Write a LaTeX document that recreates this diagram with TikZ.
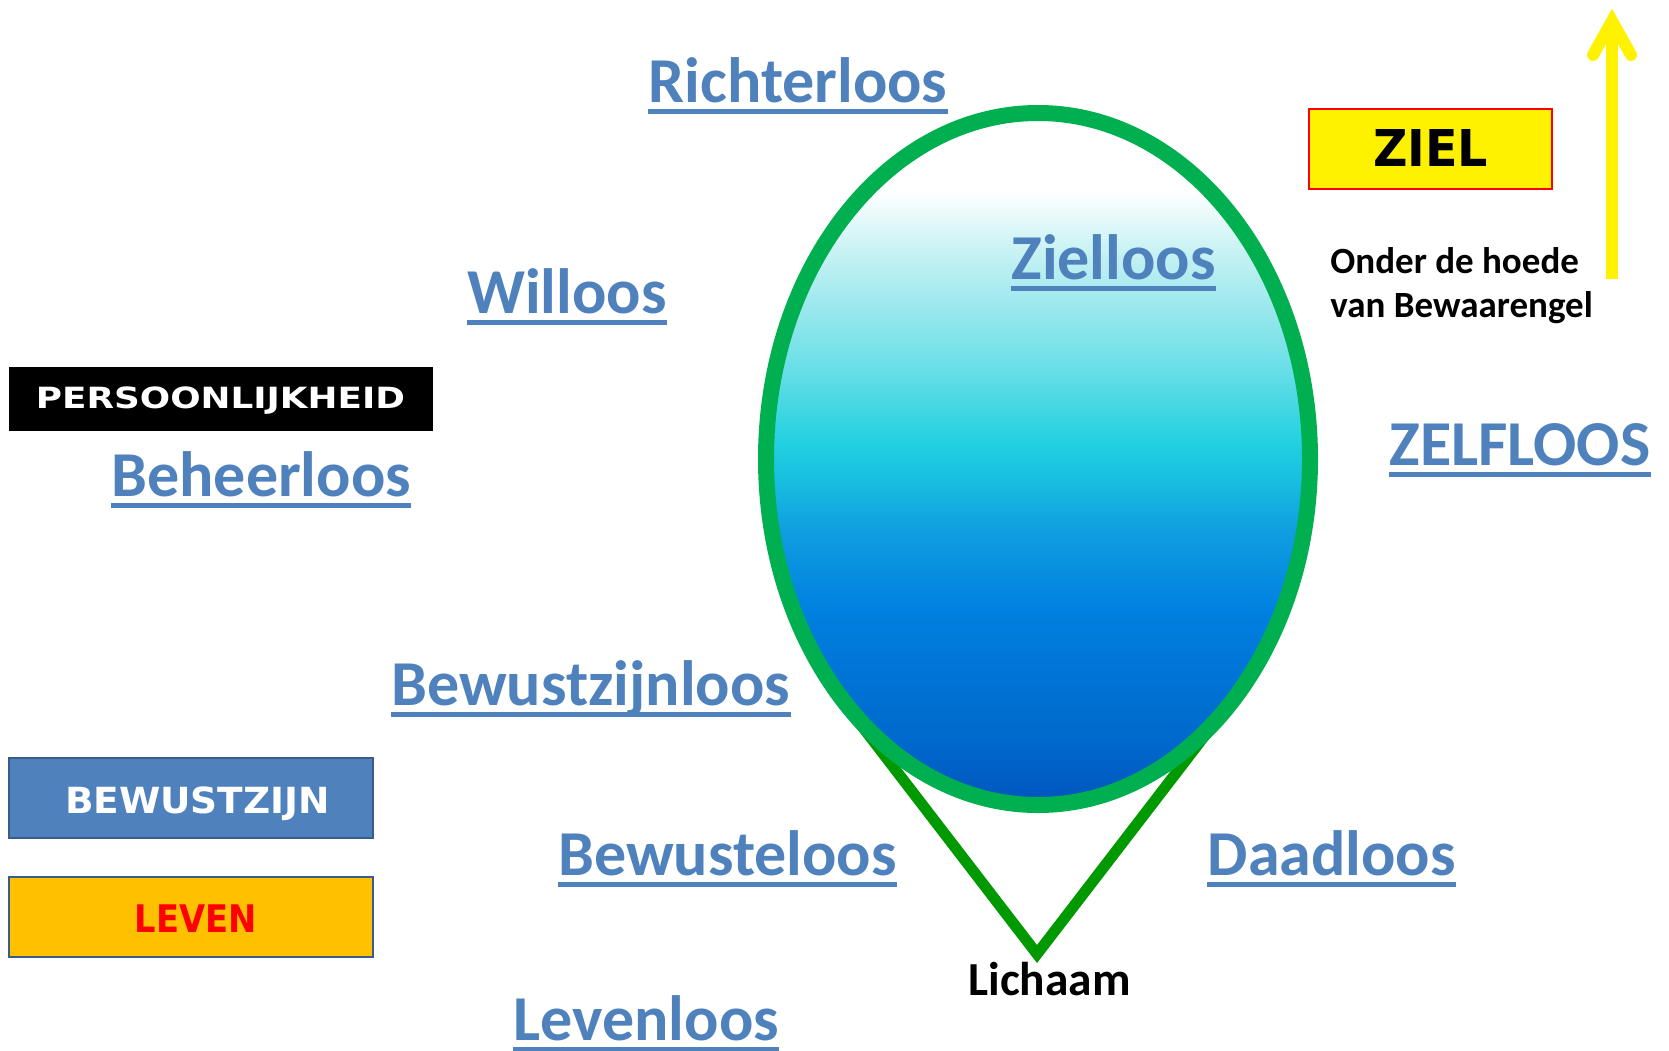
\documentclass[tikz,border=0pt]{standalone}
\usepackage{fontspec}
\setmainfont{Carlito}
\newfontfamily\boxfont{DejaVu Sans}
\usepackage{graphicx}
\usetikzlibrary{shapes.geometric}
\definecolor{lblue}{HTML}{4F81BD}
\definecolor{soulgreen}{HTML}{00B050}
\definecolor{bodygreen}{HTML}{009900}
\definecolor{boxblue}{HTML}{4F81BD}
\definecolor{boxborder}{HTML}{385D8A}
\definecolor{amber}{HTML}{FFC000}
\definecolor{s0}{HTML}{0055BE}
\definecolor{s1}{HTML}{0068CC}
\definecolor{s2}{HTML}{0080E0}
\definecolor{s3}{HTML}{10A0E0}
\definecolor{s4}{HTML}{18C0E0}
\definecolor{s5}{HTML}{22D0E0}
\definecolor{s6}{HTML}{70E0E8}
\definecolor{s7}{HTML}{C0F0F2}
\pgfdeclareverticalshading{soulshade}{100bp}{color(0bp)=(s0); color(25bp)=(s0); color(29.48bp)=(s1); color(39.09bp)=(s2); color(45.09bp)=(s3); color(48.70bp)=(s4); color(51.16bp)=(s5); color(57.15bp)=(s6); color(64.38bp)=(s7); color(69.44bp)=(white); color(100bp)=(white)}
\tikzset{
  loos/.style={font=\fontsize{32}{36}\selectfont\bfseries, text=lblue, inner sep=0pt},
  loosline/.style={draw=lblue, line width=2.5pt},
  blackbold/.style={font=\bfseries, text=black, inner sep=0pt},
  boxshape/.style={rectangle, inner sep=0pt},
  boxtxt/.style={font=\boxfont\bfseries, inner sep=0pt, anchor=base},
  soul/.style={ellipse, inner sep=0pt, minimum width=272pt, minimum height=346pt, shading=soulshade, draw=soulgreen, line width=8pt},
  bodyline/.style={draw=bodygreen, line width=5.5pt, line join=miter},
  yarrow/.style={draw=yellow, line width=6pt}
}
\newcommand\looslabel[3]{%
  \node[loos, anchor=base west] (#1) at (#2) {#3};
  \draw[loosline] ([yshift=-4.55pt]#1.base west) -- ([yshift=-4.55pt]#1.base east);
}
\begin{document}
\begin{tikzpicture}[x=0.5pt, y=-0.5pt]
  \path[fill=white, use as bounding box] (0,0) rectangle (1669,1050);

  % body triangle (behind the soul)
  \coordinate (apex) at (1037,954);
  \coordinate (bodyL) at (848,708);
  \coordinate (bodyR) at (1226,708);
  \draw[bodyline] (bodyL) -- (apex) -- (bodyR);

  % soul ellipse
  \node[soul] (soulnode) at (1038,459) {};

  % labels
  \looslabel{richter}{648.3,102.7}{Richterloos}
  \looslabel{zielloos}{1011,279.4}{Zielloos}
  \looslabel{willoos}{466.7,313.3}{Willoos}
  \looslabel{beheer}{111,496.7}{Beheerloos}
  \looslabel{zelf}{1389,465}{ZELFLOOS}
  \looslabel{bewzijn}{391,705}{Bewustzijnloos}
  \looslabel{bewtel}{558,875}{Bewusteloos}
  \looslabel{daad}{1207.3,875}{Daadloos}
  \looslabel{leven}{513.3,1040}{Levenloos}

  \node[blackbold, anchor=base west, font=\fontsize{23.7}{28}\selectfont\bfseries] (lichaam) at (968,995) {Lichaam};

  \node[blackbold, anchor=base west, font=\fontsize{18.5}{22}\selectfont\bfseries] (onder1) at (1330,273) {Onder de hoede};
  \node[blackbold, anchor=base west, font=\fontsize{18.5}{22}\selectfont\bfseries] (onder2) at (1330,317) {van Bewaarengel};

  % boxes
  \node[boxshape, fill=black, minimum width=212pt, minimum height=32pt] (persbox) at (221,399) {};
  \node[boxtxt, text=white] (perstxt) at (220.5,408.3) {\resizebox{184.5pt}{10.85pt}{PERSOONLIJKHEID}};

  \node[boxshape, fill=boxblue, draw=boxborder, line width=1.2pt, minimum width=182pt, minimum height=40pt] (bewbox) at (191,798) {};
  \node[boxtxt, text=white] (bewtxt) at (197.5,813.3) {\resizebox{132.5pt}{13.35pt}{BEWUSTZIJN}};

  \node[boxshape, fill=amber, draw=boxborder, line width=1.2pt, minimum width=182pt, minimum height=40pt] (levbox) at (191,917) {};
  \node[boxtxt, text=red] (levtxt) at (196,932.7) {\resizebox{61pt}{13.85pt}{LEVEN}};

  \node[boxshape, fill=yellow, draw=red, line width=1pt, minimum width=121.5pt, minimum height=40pt] (zielbox) at (1430.5,149) {};
  \node[boxtxt, text=black] (zieltxt) at (1430.5,166.7) {\resizebox{57.5pt}{18.5pt}{ZIEL}};

  % yellow arrow
  \coordinate (arrB) at (1612,279);
  \coordinate (arrT) at (1612,21);
  \coordinate (armL) at (1593,55);
  \coordinate (armR) at (1631,55);
  \draw[yarrow] (arrB) -- (arrT);
  \draw[yarrow, line cap=round, line join=miter] (armL) -- (arrT) -- (armR);
\end{tikzpicture}
\end{document}
